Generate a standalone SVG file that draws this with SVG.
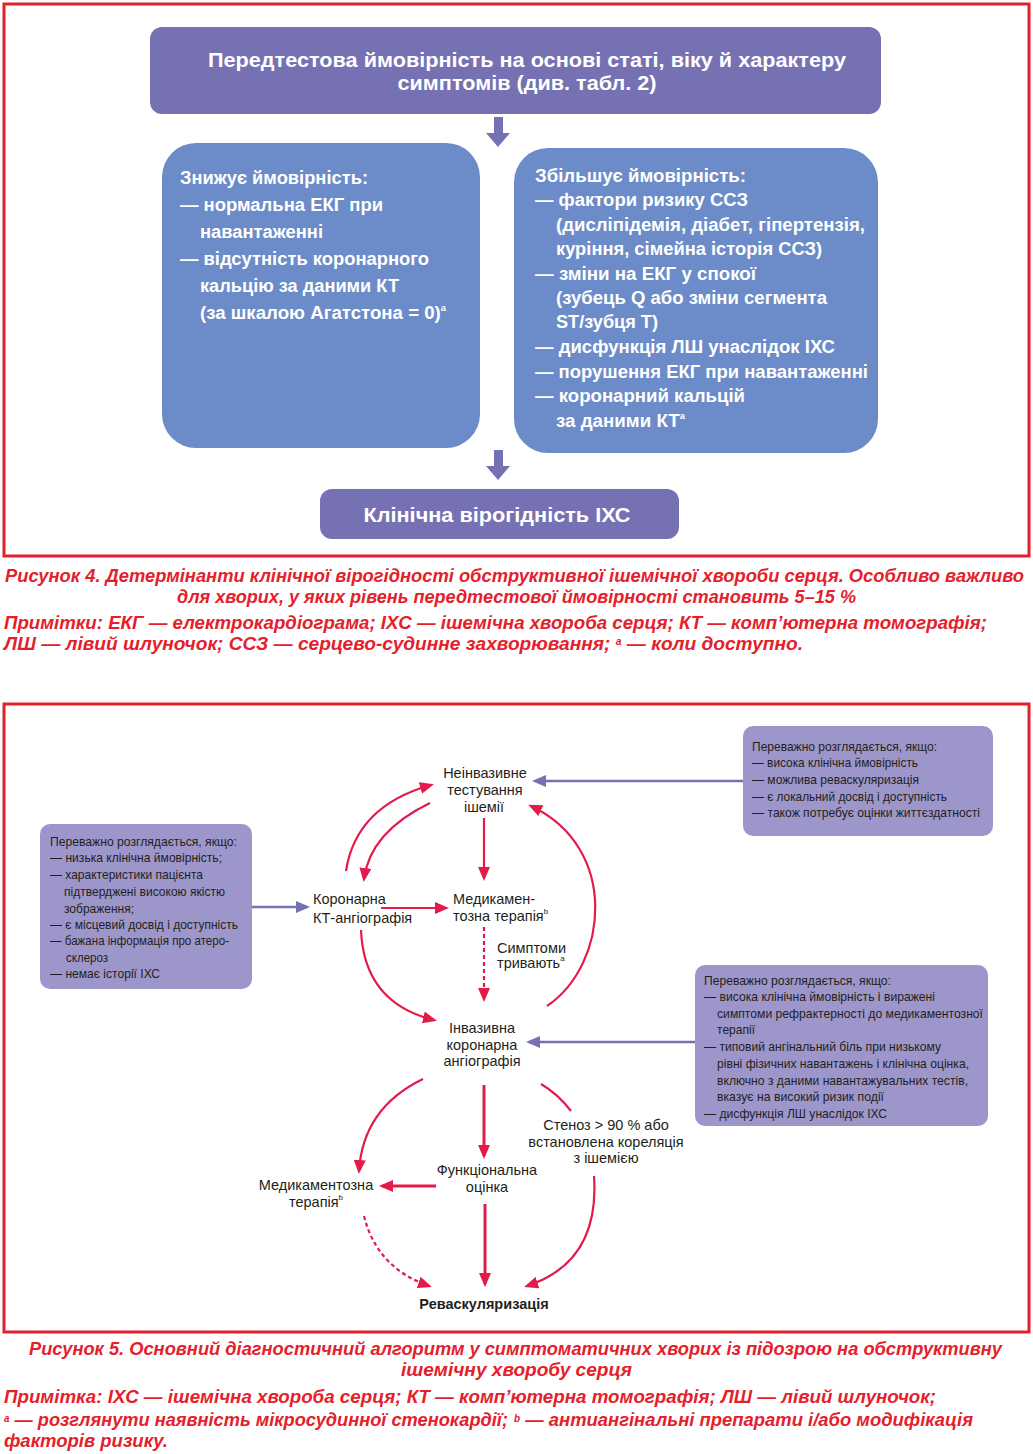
<svg xmlns="http://www.w3.org/2000/svg" width="1033" height="1454" viewBox="0 0 1033 1454">
<style>
.frame{fill:none;stroke:#e5202a;stroke-width:3}
.pbox{fill:#7571b3}
.bbox{fill:#6b8cc8}
.ibox{fill:#9d96ca}
.wt{font-family:"Liberation Sans",Arial,sans-serif;font-weight:bold;fill:#ffffff}
.bt{font-size:18px}
.cap{font-family:"Liberation Sans",Arial,sans-serif;font-weight:bold;font-style:italic;fill:#e5202a;font-size:18.5px}
.nt{font-family:"Liberation Sans",Arial,sans-serif;font-size:14.5px;fill:#231f20}
.it{font-family:"Liberation Sans",Arial,sans-serif;font-size:13.5px;fill:#231f20}
.rc{fill:none;stroke:#e31b4b;stroke-width:2.2}
.rt{fill:none;stroke:#e31b4b;stroke-width:3}
.dash{stroke-dasharray:4 3}
.pc{fill:none;stroke:#7571b3;stroke-width:2.5}
</style>
<defs>
<marker id="ar" markerUnits="userSpaceOnUse" markerWidth="14" markerHeight="12" refX="11" refY="6" orient="auto" viewBox="0 0 14 12"><path d="M0,0 L14,6 L0,12 z" fill="#e31b4b"/></marker>
<marker id="ap" markerUnits="userSpaceOnUse" markerWidth="14" markerHeight="12" refX="11" refY="6" orient="auto" viewBox="0 0 14 12"><path d="M0,0 L14,6 L0,12 z" fill="#7571b3"/></marker>
</defs>
<rect width="1033" height="1454" fill="#ffffff"/>

<!-- Figure 4 -->
<rect class="frame" x="4" y="4" width="1025" height="552"/>
<g id="pretest">
<rect class="pbox" x="150" y="27" width="731" height="87" rx="12"/>
<text class="wt" font-size="21" x="527" y="67" text-anchor="middle" textLength="638" lengthAdjust="spacingAndGlyphs">Передтестова ймовірність на основі статі, віку й характеру</text>
<text class="wt" font-size="21" x="527" y="90" text-anchor="middle" textLength="259" lengthAdjust="spacingAndGlyphs">симптомів (див. табл. 2)</text>
</g>
<g id="arrows4" fill="#7571b3">
<rect x="494" y="117" width="9" height="17"/>
<polygon points="486,133 510,133 498,147"/>
<rect x="494" y="450" width="9" height="17"/>
<polygon points="486,466 510,466 498,480"/>
</g>
<g id="decrease">
<rect class="bbox" x="162" y="143" width="318" height="305" rx="34"/>
<g class="wt bt">
<text x="180" y="184" textLength="188" lengthAdjust="spacingAndGlyphs">Знижує ймовірність:</text>
<text x="180" y="211" textLength="203" lengthAdjust="spacingAndGlyphs">— нормальна ЕКГ при</text>
<text x="200" y="238" textLength="123" lengthAdjust="spacingAndGlyphs">навантаженні</text>
<text x="180" y="265" textLength="249" lengthAdjust="spacingAndGlyphs">— відсутність коронарного</text>
<text x="200" y="292" textLength="199" lengthAdjust="spacingAndGlyphs">кальцію за даними КТ</text>
<text x="200" y="319" textLength="246" lengthAdjust="spacingAndGlyphs">(за шкалою Агатстона = 0)<tspan font-size="9" baseline-shift="8">a</tspan></text>
</g>
</g>
<g id="increase">
<rect class="bbox" x="514" y="148" width="364" height="305" rx="34"/>
<g class="wt bt">
<text x="535" y="182" textLength="211" lengthAdjust="spacingAndGlyphs">Збільшує ймовірність:</text>
<text x="535" y="206" textLength="213" lengthAdjust="spacingAndGlyphs">— фактори ризику ССЗ</text>
<text x="556" y="231" textLength="309" lengthAdjust="spacingAndGlyphs">(дисліпідемія, діабет, гіпертензія,</text>
<text x="556" y="255" textLength="266" lengthAdjust="spacingAndGlyphs">куріння, сімейна історія ССЗ)</text>
<text x="535" y="280" textLength="221" lengthAdjust="spacingAndGlyphs">— зміни на ЕКГ у спокої</text>
<text x="556" y="304" textLength="271" lengthAdjust="spacingAndGlyphs">(зубець Q або зміни сегмента</text>
<text x="556" y="328" textLength="102" lengthAdjust="spacingAndGlyphs">ST/зубця T)</text>
<text x="535" y="353" textLength="300" lengthAdjust="spacingAndGlyphs">— дисфункція ЛШ унаслідок ІХС</text>
<text x="535" y="378" textLength="333" lengthAdjust="spacingAndGlyphs">— порушення ЕКГ при навантаженні</text>
<text x="535" y="402" textLength="210" lengthAdjust="spacingAndGlyphs">— коронарний кальцій</text>
<text x="556" y="427" textLength="129" lengthAdjust="spacingAndGlyphs">за даними КТ<tspan font-size="9" baseline-shift="8">a</tspan></text>
</g>
</g>
<g id="clinical">
<rect class="pbox" x="320" y="489" width="359" height="50" rx="12"/>
<text class="wt" font-size="21" x="497" y="522" text-anchor="middle" textLength="267" lengthAdjust="spacingAndGlyphs">Клінічна вірогідність ІХС</text>
</g>
<g id="caption4" class="cap">
<text x="5" y="582" textLength="1019" lengthAdjust="spacingAndGlyphs">Рисунок 4. Детермінанти клінічної вірогідності обструктивної ішемічної хвороби серця. Особливо важливо</text>
<text x="516.5" y="603" text-anchor="middle" textLength="679" lengthAdjust="spacingAndGlyphs">для хворих, у яких рівень передтестової ймовірності становить 5–15 %</text>
<text x="4" y="629" textLength="983" lengthAdjust="spacingAndGlyphs">Примітки: ЕКГ — електрокардіограма; ІХС — ішемічна хвороба серця; КТ — комп’ютерна томографія;</text>
<text x="4" y="650" textLength="799" lengthAdjust="spacingAndGlyphs">ЛШ — лівий шлуночок; ССЗ — серцево-судинне захворювання; <tspan font-size="10" baseline-shift="5">a</tspan> — коли доступно.</text>
</g>

<!-- Figure 5 -->
<rect class="frame" x="4" y="704" width="1025" height="628"/>

<g id="box-left">
<rect class="ibox" x="40" y="824" width="212" height="165" rx="10"/>
<g class="it">
<text x="50" y="846" textLength="187" lengthAdjust="spacingAndGlyphs">Переважно розглядається, якщо:</text>
<text x="50" y="862" textLength="172" lengthAdjust="spacingAndGlyphs">— низька клінічна ймовірність;</text>
<text x="50" y="879" textLength="153" lengthAdjust="spacingAndGlyphs">— характеристики пацієнта</text>
<text x="64" y="896" textLength="161" lengthAdjust="spacingAndGlyphs">підтверджені високою якістю</text>
<text x="64" y="913" textLength="70" lengthAdjust="spacingAndGlyphs">зображення;</text>
<text x="50" y="929" textLength="188" lengthAdjust="spacingAndGlyphs">— є місцевий досвід і доступність</text>
<text x="50" y="945" textLength="179" lengthAdjust="spacingAndGlyphs">— бажана інформація про атеро-</text>
<text x="66" y="962" textLength="42" lengthAdjust="spacingAndGlyphs">склероз</text>
<text x="50" y="978" textLength="110" lengthAdjust="spacingAndGlyphs">— немає історії ІХС</text>
</g>
</g>
<g id="box-right-top">
<rect class="ibox" x="743" y="726" width="250" height="110" rx="10"/>
<g class="it">
<text x="752" y="751" textLength="185" lengthAdjust="spacingAndGlyphs">Переважно розглядається, якщо:</text>
<text x="752" y="767" textLength="166" lengthAdjust="spacingAndGlyphs">— висока клінічна ймовірність</text>
<text x="752" y="784" textLength="167" lengthAdjust="spacingAndGlyphs">— можлива реваскуляризація</text>
<text x="752" y="801" textLength="195" lengthAdjust="spacingAndGlyphs">— є локальний досвід і доступність</text>
<text x="752" y="817" textLength="228" lengthAdjust="spacingAndGlyphs">— також потребує оцінки життєздатності</text>
</g>
</g>
<g id="box-right-bottom">
<rect class="ibox" x="695" y="965" width="293" height="161" rx="10"/>
<g class="it">
<text x="704" y="984.5" textLength="187" lengthAdjust="spacingAndGlyphs">Переважно розглядається, якщо:</text>
<text x="704" y="1001" textLength="231" lengthAdjust="spacingAndGlyphs">— висока клінічна ймовірність і виражені</text>
<text x="717" y="1017.5" textLength="266" lengthAdjust="spacingAndGlyphs">симптоми рефрактерності до медикаментозної</text>
<text x="717" y="1034" textLength="38" lengthAdjust="spacingAndGlyphs">терапії</text>
<text x="704" y="1050.5" textLength="237" lengthAdjust="spacingAndGlyphs">— типовий ангінальний біль при низькому</text>
<text x="717" y="1067.5" textLength="252" lengthAdjust="spacingAndGlyphs">рівні фізичних навантажень і клінічна оцінка,</text>
<text x="717" y="1084.5" textLength="251" lengthAdjust="spacingAndGlyphs">включно з даними навантажувальних тестів,</text>
<text x="717" y="1100.5" textLength="167" lengthAdjust="spacingAndGlyphs">вказує на високий ризик події</text>
<text x="704" y="1117.5" textLength="183" lengthAdjust="spacingAndGlyphs">— дисфункція ЛШ унаслідок ІХС</text>
</g>
</g>

<g id="n-noninvasive" class="nt" text-anchor="middle">
<text x="485" y="778">Неінвазивне</text>
<text x="485" y="795">тестування</text>
<text x="484" y="812">ішемії</text>
</g>
<g id="n-ccta" class="nt">
<text x="313" y="904">Коронарна</text>
<text x="313" y="923">КТ-ангіографія</text>
</g>
<g id="n-med1" class="nt">
<text x="453" y="904">Медикамен-</text>
<text x="453" y="921">тозна терапія<tspan font-size="8" baseline-shift="7">b</tspan></text>
</g>
<g id="n-symptoms" class="nt">
<text x="497" y="953">Симптоми</text>
<text x="497" y="968">тривають<tspan font-size="8" baseline-shift="7">a</tspan></text>
</g>
<g id="n-ica" class="nt" text-anchor="middle">
<text x="482" y="1033">Інвазивна</text>
<text x="482" y="1050">коронарна</text>
<text x="482" y="1066">ангіографія</text>
</g>
<g id="n-stenosis" class="nt" text-anchor="middle">
<text x="606" y="1130">Стеноз &gt; 90 % або</text>
<text x="606" y="1147">встановлена кореляція</text>
<text x="606" y="1163">з ішемією</text>
</g>
<g id="n-functional" class="nt" text-anchor="middle">
<text x="487" y="1175">Функціональна</text>
<text x="487" y="1192">оцінка</text>
</g>
<g id="n-med2" class="nt" text-anchor="middle">
<text x="316" y="1190">Медикаментозна</text>
<text x="316" y="1207">терапія<tspan font-size="8" baseline-shift="7">b</tspan></text>
</g>
<g id="n-revasc">
<text class="nt" x="484" y="1309" text-anchor="middle" font-weight="bold">Реваскуляризація</text>
</g>

<g id="connectors">
<path class="pc" d="M743,781 L535,781" marker-end="url(#ap)"/>
<path class="pc" d="M252,907 L307,907" marker-end="url(#ap)"/>
<path class="pc" d="M695,1042 L529,1042" marker-end="url(#ap)"/>
<path class="rc" d="M346,871 Q356,806 431,785" marker-end="url(#ar)"/>
<path class="rc" d="M430,803 Q370,832 364,879" marker-end="url(#ar)"/>
<path class="rc" d="M484,818 L484,878" marker-end="url(#ar)"/>
<path class="rc" d="M381,908 L446,908" marker-end="url(#ar)"/>
<path class="rc dash" d="M484,927 L484,999" marker-end="url(#ar)"/>
<path class="rc" d="M361,930 Q364,1003 434,1020" marker-end="url(#ar)"/>
<path class="rc" d="M547,1006 C608,965 620,848 531,806" marker-end="url(#ar)"/>
<path class="rc" d="M423,1079 Q363,1108 359,1171" marker-end="url(#ar)"/>
<path class="rt" d="M484,1085 L484,1156" marker-end="url(#ar)"/>
<path class="rc" d="M541,1084 Q558,1094 571,1111"/>
<path class="rt" d="M436,1186 L382,1186" marker-end="url(#ar)"/>
<path class="rt" d="M485,1204 L485,1284" marker-end="url(#ar)"/>
<path class="rc" d="M594,1176 Q600,1262 527,1286" marker-end="url(#ar)"/>
<path class="rc dash" d="M364,1216 Q377,1268 429,1286" marker-end="url(#ar)"/>
</g>

<g id="caption5" class="cap">
<text x="29" y="1355" textLength="973" lengthAdjust="spacingAndGlyphs">Рисунок 5. Основний діагностичний алгоритм у симптоматичних хворих із підозрою на обструктивну</text>
<text x="401" y="1376" textLength="231" lengthAdjust="spacingAndGlyphs">ішемічну хворобу серця</text>
<text x="4" y="1403" textLength="932" lengthAdjust="spacingAndGlyphs">Примітка: ІХС — ішемічна хвороба серця; КТ — комп’ютерна томографія; ЛШ — лівий шлуночок;</text>
<text x="4" y="1426" textLength="504" lengthAdjust="spacingAndGlyphs"><tspan font-size="10" baseline-shift="4">a</tspan> — розглянути наявність мікросудинної стенокардії;</text>
<text x="514" y="1426" textLength="459" lengthAdjust="spacingAndGlyphs"><tspan font-size="10" baseline-shift="4">b</tspan> — антиангінальні препарати і/або модифікація</text>
<text x="4" y="1447" textLength="164" lengthAdjust="spacingAndGlyphs">факторів ризику.</text>
</g>
</svg>
